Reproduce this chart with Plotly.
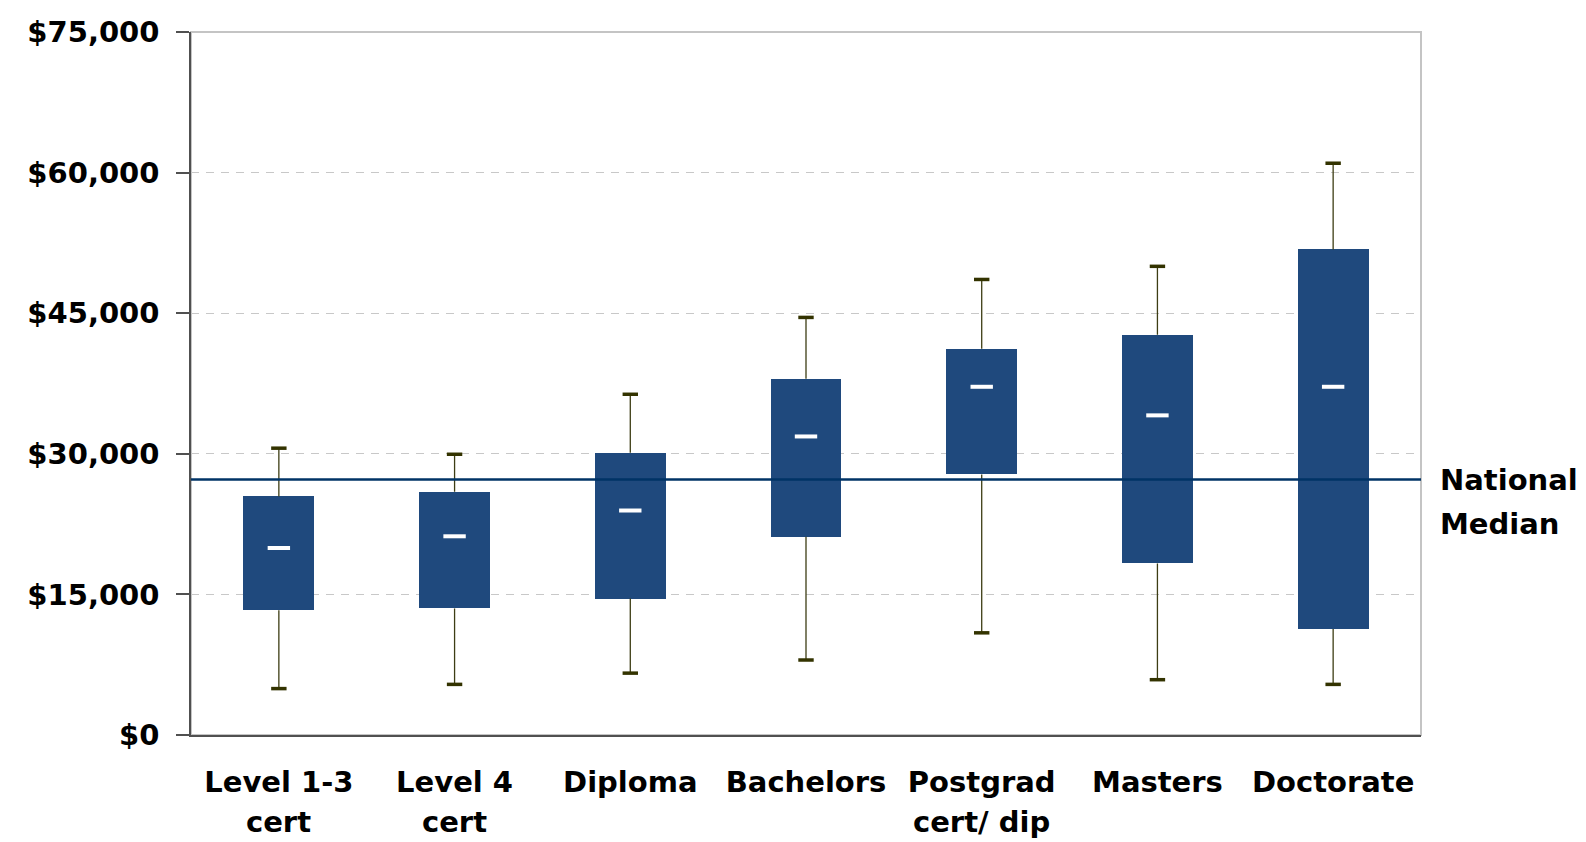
import plotly.graph_objects as go

categories = ["Level 1-3", "Level 4", "Diploma", "Bachelors",
              "Postgrad", "Masters", "Doctorate"]
second_line = ["cert", "cert", "", "", "cert/ dip", "", ""]
lower = [4950, 5400, 6600, 8000, 10900, 5900, 5400]
q1 = [13300, 13500, 14550, 21150, 27800, 18300, 11300]
median = [19950, 21200, 23950, 31850, 37150, 34100, 37150]
q3 = [25450, 25950, 30100, 38000, 41200, 42700, 51800]
upper = [30600, 29950, 36350, 44550, 48600, 50000, 61000]
national_median = 27250

y_ticks = [0, 15000, 30000, 45000, 60000, 75000]

FONT = dict(family="DejaVu Sans", size=29, color="#000000", weight=700)

fig = go.Figure()

# boxes
fig.add_trace(go.Bar(
    x=categories, y=[b - a for a, b in zip(q1, q3)], base=q1,
    width=0.404, marker=dict(color="#1F497D", line=dict(width=0)),
    hoverinfo="skip", showlegend=False))

# whiskers
wx, wy = [], []
for c, lo, a, b, hi in zip(categories, lower, q1, q3, upper):
    wx += [c, c, None, c, c, None]
    wy += [b, hi, None, lo, a, None]
fig.add_trace(go.Scatter(x=wx, y=wy, mode="lines",
                         line=dict(color="#3d3d14", width=1.3),
                         hoverinfo="skip", showlegend=False))

# whisker caps
fig.add_trace(go.Scatter(
    x=categories + categories, y=upper + lower, mode="markers",
    marker=dict(symbol="line-ew", size=11,
                line=dict(color="#333300", width=3.5)),
    hoverinfo="skip", showlegend=False))

# medians
fig.add_trace(go.Scatter(
    x=categories, y=median, mode="markers",
    marker=dict(symbol="line-ew", size=16,
                line=dict(color="#ffffff", width=4)),
    hoverinfo="skip", showlegend=False))

# plot border (top/right light grey)
fig.add_shape(type="rect", xref="paper", yref="paper", x0=0, x1=1, y0=0, y1=1,
              line=dict(color="#c4c4c4", width=2), layer="below")

# national median line
fig.add_shape(type="line", xref="paper", yref="y", x0=0, x1=1,
              y0=national_median, y1=national_median,
              line=dict(color="#003366", width=2.5), layer="above")

fig.add_annotation(text="National", xref="paper", yref="y", x=1,
                   y=national_median, xanchor="left", yanchor="middle",
                   xshift=17, yshift=0, showarrow=False, font=FONT)
fig.add_annotation(text="Median", xref="paper", yref="y", x=1,
                   y=national_median, xanchor="left", yanchor="middle",
                   xshift=17, yshift=-44, showarrow=False, font=FONT)

# second line of category labels
for c, t in zip(categories, second_line):
    if t:
        fig.add_annotation(text=t, xref="x", yref="paper", x=c, y=0,
                           xanchor="center", yanchor="middle", yshift=-87,
                           showarrow=False, font=FONT)

fig.update_layout(
    width=1586, height=842,
    margin=dict(l=183, r=173, t=24, b=115),
    paper_bgcolor="#ffffff", plot_bgcolor="#ffffff",
    font=FONT, showlegend=False, bargap=0,
)
fig.update_xaxes(type="category", range=[-0.5, 6.5], showgrid=False,
                 showline=True, linecolor="#505050", linewidth=1.5,
                 ticks="", tickfont=FONT, zeroline=False,
                 ticklabelstandoff=20, automargin=False)
fig.update_yaxes(range=[0, 75000], tickvals=y_ticks,
                 ticktext=["${:,}".format(v) for v in y_ticks],
                 showgrid=True, gridcolor="#c8c8c8", gridwidth=1,
                 griddash="8px,7px", showline=True, linecolor="#505050",
                 linewidth=1.5, ticks="outside", ticklen=13,
                 tickcolor="#505050", tickwidth=1.5, tickfont=FONT,
                 zeroline=False, ticklabelstandoff=11, automargin=False)

fig.write_html("out.html")
